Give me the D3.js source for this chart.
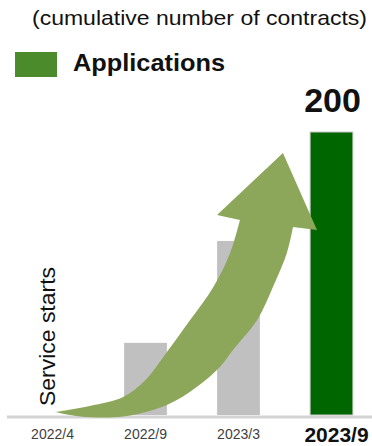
<!DOCTYPE html>
<html>
<head>
<meta charset="utf-8">
<script src="https://cdn.jsdelivr.net/npm/d3@7"></script>
<style>
  html, body { margin: 0; padding: 0; background: #fff; }
  svg { display: block; font-family: Arial, "Liberation Sans", sans-serif; }
</style>
</head>
<body>
<svg id="chart" width="372" height="446"></svg>
<script>
// Cumulative number of contracts at each milestone
const periods = ["2022/4", "2022/9", "2023/3", "2023/9"];
const contracts = [0, 51, 123, 200];
const highlightPeriod = "2023/9";

// Growth arrow outline, in (period index, contracts) space
const arrowUpperEdge = [
  [0.027, 2.1], [0.40, 6.4], [0.76, 12.7], [1.0, 24.7], [1.23, 44.5],
  [1.48, 67.1], [1.73, 90.5], [1.91, 114.5], [2.016, 137.8]
];
const arrowHead = [[1.769, 141.3], [2.478, 185.2], [2.844, 130.7], [2.586, 132.9]];
const arrowLowerEdge = [
  [2.586, 132.9], [2.52, 114.5], [2.37, 90.5], [2.2, 67.1], [1.94, 45.9],
  [1.80, 33.9], [1.55, 19.8], [1.23, 7.1], [0.76, -1.0], [0.30, -1.0], [0.027, 2.1]
];

const svg = d3.select("#chart");

const x = d3.scaleBand()
  .domain(periods)
  .range([6, 378])
  .paddingInner(0.54)
  .paddingOuter(0.27);

const y = d3.scaleLinear().domain([0, 200]).range([415, 132]);

// index scale runs through the band centres, used for the arrow
const xi = d3.scaleLinear()
  .domain([0, periods.length - 1])
  .range([x(periods[0]) + x.bandwidth() / 2, x(periods[periods.length - 1]) + x.bandwidth() / 2]);

// Header
svg.append("text")
  .attr("x", 32).attr("y", 25)
  .attr("font-size", 21)
  .attr("fill", "#111")
  .attr("textLength", 335)
  .attr("lengthAdjust", "spacingAndGlyphs")
  .text("(cumulative number of contracts)");

// Legend
svg.append("rect")
  .attr("x", 15).attr("y", 52).attr("width", 42).attr("height", 25)
  .attr("fill", "#4b8b2b");
svg.append("text")
  .attr("x", 73).attr("y", 71)
  .attr("font-size", 24).attr("font-weight", "bold")
  .attr("fill", "#111")
  .attr("textLength", 152)
  .attr("lengthAdjust", "spacingAndGlyphs")
  .text("Applications");

// Bars
svg.append("g").selectAll("rect")
  .data(periods.map((p, i) => ({ period: p, value: contracts[i] })))
  .join("rect")
  .attr("x", d => x(d.period))
  .attr("width", x.bandwidth())
  .attr("y", d => y(d.value))
  .attr("height", d => y(0) - y(d.value))
  .attr("fill", d => d.period === highlightPeriod ? "#006600" : "#c0c0c0")
  .attr("stroke", d => d.period === highlightPeriod ? "#c8c8c8" : "none")
  .attr("stroke-width", 1);

// Baseline
svg.append("line")
  .attr("x1", 7).attr("x2", 372)
  .attr("y1", y(0) + 2).attr("y2", y(0) + 2)
  .attr("stroke", "#d4d4d4").attr("stroke-width", 3);

// Growth arrow
const edge = d3.line()
  .x(d => xi(d[0]))
  .y(d => y(d[1]))
  .curve(d3.curveCatmullRom.alpha(0.5));
const straight = d3.line().x(d => xi(d[0])).y(d => y(d[1]));
const upperPath = edge(arrowUpperEdge);
const headPath = straight([arrowUpperEdge[arrowUpperEdge.length - 1], ...arrowHead]).replace(/^M/, "L");
const lowerPath = edge(arrowLowerEdge).replace(/^M/, "L");
svg.append("path")
  .attr("d", upperPath + headPath + lowerPath + "Z")
  .attr("fill", "#8ca65a");

// Value label on the latest bar
const last = periods.length - 1;
svg.append("text")
  .attr("x", x(periods[last]) + x.bandwidth() / 2 + 1)
  .attr("y", y(contracts[last]) - 20)
  .attr("text-anchor", "middle")
  .attr("font-size", 34).attr("font-weight", "bold")
  .attr("fill", "#111")
  .text(contracts[last]);

// Service start note
svg.append("text")
  .attr("transform", `translate(55, ${y(0) - 9}) rotate(-90)`)
  .attr("font-size", 22)
  .attr("fill", "#111")
  .attr("textLength", 139)
  .attr("lengthAdjust", "spacingAndGlyphs")
  .text("Service starts");

// Period axis
const axis = svg.append("g")
  .attr("transform", `translate(0, ${y(0) + 2})`)
  .call(d3.axisBottom(x).tickSize(0).tickPadding(12));
axis.select(".domain").remove();
axis.selectAll("text")
  .attr("font-family", "Arial, 'Liberation Sans', sans-serif")
  .attr("font-size", 14)
  .attr("fill", "#404040");
axis.selectAll(".tick")
  .filter(d => d === highlightPeriod)
  .select("text")
  .attr("y", 10)
  .attr("font-size", 21)
  .attr("font-weight", "bold")
  .attr("fill", "#111")
  .attr("dx", 5);
</script>
</body>
</html>
